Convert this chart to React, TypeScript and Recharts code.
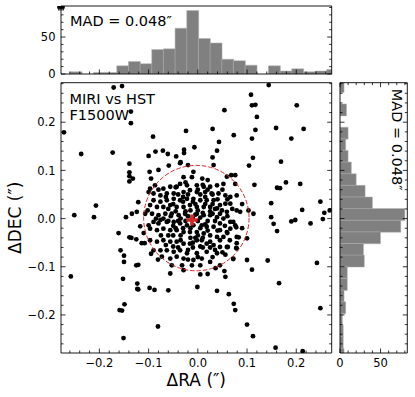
import React from 'react';
import { ScatterChart, Scatter, XAxis, YAxis, ReferenceDot, BarChart, Bar } from 'recharts';

const FONT = '"DejaVu Sans", sans-serif';
const W = 415;
const H = 397;

// ---------- data ----------
const raTicks = [-0.26, -0.24, -0.22, -0.2, -0.18, -0.16, -0.14, -0.12, -0.1, -0.08, -0.06, -0.04, -0.02, 0, 0.02, 0.04, 0.06, 0.08, 0.1, 0.12, 0.14, 0.16, 0.18, 0.2, 0.22, 0.24, 0.26];
const decTicks = [-0.26, -0.24, -0.22, -0.2, -0.18, -0.16, -0.14, -0.12, -0.1, -0.08, -0.06, -0.04, -0.02, 0, 0.02, 0.04, 0.06, 0.08, 0.1, 0.12, 0.14, 0.16, 0.18, 0.2, 0.22, 0.24, 0.26, 0.28];
const topCountTicks = [0, 10, 20, 30, 40, 50, 60, 70, 80, 90];
const rightCountTicks = [0, 10, 20, 30, 40, 50, 60, 70, 80];

const raDomain: [number, number] = [-0.278, 0.272];
const decDomain: [number, number] = [-0.279, 0.282];
const topCountDomain: [number, number] = [0, 92];
const rightCountDomain: [number, number] = [0, 83];

const raBinCenters = [-0.2477, -0.2240, -0.2003, -0.1766, -0.1529, -0.1292, -0.1055, -0.0818, -0.0581, -0.0344, -0.0107, 0.0130, 0.0367, 0.0604, 0.0841, 0.1078, 0.1315, 0.1552, 0.1789, 0.2026, 0.2263, 0.2500, 0.2737];
const raCounts = [3, 0, 2, 2, 11, 17, 14, 33, 34, 62, 86, 48, 42, 20, 18, 12, 0, 11, 4, 7, 3, 4, 6];

const decBinCenters = [0.2743, 0.2502, 0.2260, 0.2019, 0.1777, 0.1536, 0.1294, 0.1053, 0.0811, 0.0570, 0.0328, 0.0087, -0.0155, -0.0396, -0.0638, -0.0879, -0.1121, -0.1362, -0.1604, -0.1845, -0.2087, -0.2328, -0.2570, -0.2811];
const decCounts = [5, 0, 8, 0, 10, 7, 10, 14, 20, 31, 40, 80, 75, 50, 29, 30, 9, 9, 5, 7, 3, 4, 4, 5];

const madLabel = 'MAD = 0.048″';
const medianOffset = [-0.012, -0.003];
const circleCenter = [-0.003, 0.001];

const pointsUpperLeft: [number, number][] = [
  [-0.171, 0.272], [-0.154, 0.275], [-0.136, 0.222], [-0.136, 0.198], [-0.272, 0.179], [-0.024, 0.182],
  [-0.091, 0.170], [-0.237, 0.134], [-0.173, 0.137], [-0.100, 0.130], [-0.086, 0.139], [-0.071, 0.141],
  [-0.061, 0.134], [-0.044, 0.129], [-0.028, 0.143], [-0.028, 0.136], [-0.007, 0.148], [-0.139, 0.114],
  [-0.139, 0.096], [-0.139, 0.088], [-0.132, 0.083], [-0.139, 0.077], [-0.207, 0.027], [-0.251, 0.007],
  [-0.211, 0.003], [-0.134, 0.010], [-0.146, 0.003], [-0.098, 0.097], [-0.095, 0.083], [-0.080, 0.101],
  [-0.059, 0.110], [-0.035, 0.117], [-0.020, 0.111], [-0.121, 0.034], [-0.102, 0.017], [-0.036, 0.115],
];
const pointsUpperRight: [number, number][] = [
  [0.144, 0.277], [0.108, 0.257], [0.110, 0.235], [0.117, 0.236], [0.201, 0.235], [0.054, 0.225],
  [0.120, 0.211], [0.030, 0.186], [0.117, 0.184], [0.159, 0.188], [0.215, 0.186], [0.073, 0.173],
  [0.110, 0.166], [0.190, 0.166], [0.043, 0.159], [0.039, 0.141], [0.030, 0.127], [0.032, 0.111],
  [0.112, 0.126], [0.169, 0.118], [0.104, 0.110], [0.068, 0.090], [0.076, 0.090], [0.059, 0.087],
  [0.115, 0.070], [0.179, 0.075], [0.208, 0.072], [0.161, 0.064], [0.167, 0.063], [0.149, 0.032],
  [0.249, 0.035], [0.212, 0.018], [0.257, 0.012], [0.268, 0.017], [0.149, 0.003], [0.009, 0.083],
];
const pointsLowerLeft: [number, number][] = [
  [-0.161, -0.030], [-0.139, -0.039], [-0.135, -0.040], [-0.125, -0.043], [-0.114, -0.051], [-0.108, -0.051],
  [-0.117, -0.016], [-0.157, -0.066], [-0.150, -0.077], [-0.150, -0.090], [-0.125, -0.097], [-0.121, -0.096],
  [-0.258, -0.120], [-0.152, -0.125], [-0.123, -0.135], [-0.123, -0.146], [-0.121, -0.147], [-0.098, -0.144],
  [-0.088, -0.148], [-0.060, -0.149], [-0.149, -0.178], [-0.159, -0.190], [-0.154, -0.191], [-0.081, -0.224],
  [-0.151, -0.248], [-0.095, -0.073], [-0.081, -0.085],
];
const pointsLowerRight: [number, number][] = [
  [0.154, -0.011], [0.161, -0.026], [0.190, -0.006], [0.198, -0.003], [0.229, -0.010], [0.254, -0.001],
  [0.100, -0.086], [0.142, -0.087], [0.110, -0.106], [0.242, -0.092], [0.165, -0.134], [-0.001, -0.142],
  [0.039, -0.150], [0.063, -0.157], [0.054, -0.109], [0.056, -0.121], [0.036, -0.103], [0.005, -0.116],
  [0.020, -0.115], [0.073, -0.177], [0.076, -0.190], [0.249, -0.186], [0.100, -0.220], [0.112, -0.244],
  [0.158, -0.268], [0.213, -0.275], [0.072, -0.084], [0.056, -0.075], [0.078, -0.061], [0.079, -0.051],
  [0.083, -0.039], [0.061, -0.059], [0.078, -0.018],
];
const pointsCore: [number, number][] = [
  [-0.009, 0.097], [-0.029, 0.086], [-0.012, 0.086], [0.076, 0.072], [0.052, 0.072], [0.039, 0.069],
  [0.025, 0.066], [0.012, 0.066], [-0.002, 0.069], [-0.022, 0.069], [-0.036, 0.072], [-0.043, 0.066],
  [-0.056, 0.066], [-0.070, 0.062], [-0.087, 0.069], [-0.097, 0.062], [-0.100, 0.055], [-0.090, 0.052],
  [-0.076, 0.048], [-0.063, 0.052], [-0.049, 0.052], [-0.029, 0.055], [-0.016, 0.059], [-0.002, 0.055],
  [0.015, 0.055], [0.028, 0.052], [0.042, 0.052], [0.056, 0.048], [0.066, 0.045], [0.079, 0.048],
  [0.079, 0.017], [0.086, 0.014], [0.103, 0.017], [0.113, 0.010], [0.066, 0.031], [0.056, 0.031],
  [0.045, 0.028], [0.032, 0.038], [0.018, 0.038], [0.005, 0.038], [-0.009, 0.041], [-0.022, 0.041],
  [-0.036, 0.038], [-0.049, 0.041], [-0.063, 0.038], [-0.076, 0.035], [-0.090, 0.038], [-0.097, 0.028],
  [-0.083, 0.024], [-0.070, 0.024], [-0.056, 0.028], [-0.043, 0.024], [-0.029, 0.024], [-0.016, 0.028],
  [-0.002, 0.024], [0.012, 0.024], [0.025, 0.024], [0.039, 0.021], [0.049, 0.017], [0.059, 0.014],
  [-0.124, 0.014], [-0.107, 0.010], [-0.093, 0.010], [-0.080, 0.007], [-0.066, 0.010], [-0.053, 0.010],
  [-0.039, 0.007], [-0.026, 0.010], [-0.002, 0.010], [0.012, 0.007], [0.025, 0.007], [0.039, 0.003],
  [0.052, 0.000], [0.066, -0.007], [0.072, -0.007], [0.076, -0.014], [0.066, -0.021], [0.059, -0.028],
  [0.045, -0.024], [0.032, -0.017], [0.018, -0.017], [0.008, -0.014], [-0.009, -0.014], [-0.022, -0.014],
  [-0.036, -0.010], [-0.049, -0.007], [-0.063, -0.007], [-0.076, -0.003], [-0.090, -0.007], [-0.100, -0.014],
  [-0.097, -0.021], [-0.083, -0.024], [-0.070, -0.021], [-0.056, -0.024], [-0.043, -0.024], [-0.029, -0.028],
  [-0.016, -0.028], [-0.002, -0.028], [0.012, -0.031], [0.025, -0.035], [0.039, -0.038], [0.052, -0.038],
  [0.079, -0.038], [0.100, -0.041], [-0.097, -0.045], [-0.083, -0.048], [-0.070, -0.045], [-0.056, -0.048],
  [-0.043, -0.048], [-0.029, -0.052], [-0.016, -0.052], [-0.002, -0.045], [0.008, -0.045], [0.018, -0.052],
  [0.032, -0.055], [0.045, -0.059], [0.059, -0.059], [0.079, -0.062], [-0.090, -0.066], [-0.076, -0.066],
  [-0.063, -0.066], [-0.049, -0.069], [-0.036, -0.066], [-0.022, -0.072], [-0.002, -0.072], [0.018, -0.069],
  [0.039, -0.072], [0.072, -0.083], [-0.073, -0.079], [-0.056, -0.083], [-0.043, -0.079], [-0.029, -0.083],
  [-0.009, -0.086], [0.008, -0.083], [0.025, -0.090], [0.045, -0.097], [-0.053, -0.097], [-0.032, -0.097],
  [-0.012, -0.097], [0.005, -0.097], [-0.056, -0.114], [-0.029, -0.107],
];
const pointsCentre: [number, number][] = [
  [-0.010, 0.000], [0.000, -0.005], [0.010, 0.012], [-0.020, 0.005], [0.020, -0.005], [-0.005, 0.030],
  [0.005, -0.020], [-0.030, -0.020], [0.030, 0.030], [-0.015, -0.040], [0.015, 0.045], [-0.045, 0.015],
  [0.045, -0.010], [-0.060, -0.035], [0.060, 0.005], [-0.040, -0.060], [0.035, -0.065], [-0.070, 0.000],
  [0.000, 0.060], [-0.025, 0.075], [0.020, 0.080], [-0.050, -0.015], [0.030, 0.010], [-0.035, 0.000],
  [0.010, -0.060], [-0.010, -0.060],
  [-0.050, 0.030], [-0.040, 0.050], [-0.020, 0.050], [0.005, 0.050], [0.020, 0.060], [0.040, 0.040],
  [0.050, 0.060], [0.060, 0.040], [-0.060, 0.020], [-0.030, 0.035], [-0.010, 0.035], [0.015, 0.030],
  [0.035, 0.020], [0.070, 0.020], [-0.085, 0.000], [-0.060, -0.005], [-0.040, -0.005], [-0.025, -0.005],
  [0.005, 0.002], [0.035, -0.005], [0.055, -0.015], [-0.075, -0.035], [-0.050, -0.035], [-0.035, -0.035],
  [-0.005, -0.040], [0.010, -0.040], [0.025, -0.048], [0.045, -0.045], [0.065, -0.045], [-0.065, -0.055],
  [-0.050, -0.058], [-0.010, -0.050], [0.005, -0.058], [0.025, -0.060], [-0.020, -0.085], [0.000, -0.080],
  [0.030, -0.080], [-0.080, 0.060], [0.090, 0.030], [0.090, -0.020], [-0.110, -0.030], [-0.015, 0.017],
  [0.000, 0.017], [-0.045, -0.020],
  [-0.005, 0.008], [0.015, -0.012], [-0.025, 0.015], [0.025, 0.015], [-0.015, -0.020], [0.000, -0.035],
  [-0.030, 0.045], [0.010, 0.070], [-0.055, 0.005], [0.045, 0.010], [-0.020, -0.065], [0.040, -0.025],
  [-0.065, 0.045], [0.030, 0.050], [-0.045, 0.065], [0.060, -0.030], [-0.080, -0.010], [0.020, -0.025],
  [-0.035, -0.045], [0.050, -0.070],
];

const scatterData = [
  ...pointsUpperLeft, ...pointsUpperRight, ...pointsLowerLeft, ...pointsLowerRight, ...pointsCore, ...pointsCentre,
].map(([x, y]) => ({ x, y }));
const medianData = [{ x: medianOffset[0], y: medianOffset[1] }];
const raHist = raBinCenters.map((c, i) => ({ center: c, count: raCounts[i] }));
const decHist = decBinCenters.map((c, i) => ({ center: c, count: decCounts[i] }));

// ---------- helpers ----------
type Side = 'bottom' | 'top' | 'left';
const fmtOffset = (v: number) => (v < -1e-9 ? '−' : '') + Math.abs(v).toFixed(1);
const fmtCount = (v: number) => String(Math.round(v));

// mirror: distance (px) from the left axis to the opposite (right) frame edge, where mirrored ticks are drawn
const makeTick = (side: Side, step: number, fmt: ((v: number) => string) | null, mirror = 0) => (props: any) => {
  const { x, y, payload } = props;
  const v = Number(payload.value);
  const major = Math.abs(v / step - Math.round(v / step)) < 1e-6;
  const len = major ? 4.5 : 2.5;
  let x2 = x, y2 = y;
  if (side === 'bottom') y2 = y - len;
  if (side === 'top') y2 = y + len;
  if (side === 'left') x2 = x + len;
  let label: React.ReactNode = null;
  if (major && fmt) {
    if (side === 'bottom') {
      label = <text x={x} y={y + 14.2} textAnchor="middle" fontSize={11.5} fontFamily={FONT} fill="#000">{fmt(v)}</text>;
    } else if (side === 'left') {
      label = <text x={x - 5.5} y={y + 4.2} textAnchor="end" fontSize={11.5} fontFamily={FONT} fill="#000">{fmt(v)}</text>;
    }
  }
  return (
    <g>
      <line x1={x} y1={y} x2={x2} y2={y2} stroke="#000" strokeWidth={0.8} />
      {side === 'left' && mirror > 0 ? (
        <line x1={x + mirror} y1={y} x2={x + mirror - len} y2={y} stroke="#000" strokeWidth={0.8} />
      ) : null}
      {label}
    </g>
  );
};

const axisCommon = {
  type: 'number' as const,
  allowDataOverflow: true,
  tickSize: 0,
  tickMargin: 0,
  tickLine: false,
  interval: 0 as const,
  axisLine: { stroke: '#000', strokeWidth: 0.9 },
};

const DotShape = (props: any) => <circle cx={props.cx} cy={props.cy} r={2.4} fill="#000" />;
const PlusShape = (props: any) => {
  const { cx, cy } = props;
  const a = 5.6;
  const t = 1.8;
  const d = `M${cx - t},${cy - a}H${cx + t}V${cy - t}H${cx + a}V${cy + t}H${cx + t}V${cy + a}H${cx - t}V${cy + t}H${cx - a}V${cy - t}H${cx - t}Z`;
  return <path d={d} fill="#d62728" />;
};

const layer: React.CSSProperties = { position: 'absolute', left: 0, top: 0 };

export default function App() {
  return (
    <div style={{ position: 'absolute', left: 0, top: 0, width: W, height: H, background: '#fff', overflow: 'hidden' }}>
      {/* main scatter panel */}
      <div style={layer}>
        <ScatterChart width={W} height={H} margin={{ left: 21, right: 82.3, top: 81.7, bottom: 14 }}>
          <XAxis xAxisId="b" dataKey="x" orientation="bottom" height={30} domain={raDomain} ticks={raTicks} tick={makeTick('bottom', 0.1, fmtOffset)} {...axisCommon} />
          <XAxis xAxisId="t" orientation="top" height={1} domain={raDomain} ticks={raTicks} tick={makeTick('top', 0.1, null)} {...axisCommon} />
          <YAxis yAxisId="l" dataKey="y" orientation="left" width={40} domain={decDomain} ticks={decTicks} tick={makeTick('left', 0.1, fmtOffset, 270.7)} {...axisCommon} />
          <YAxis yAxisId="r" orientation="right" width={1} domain={decDomain} ticks={decTicks} {...axisCommon} tick={false} />
          <Scatter xAxisId="b" yAxisId="l" data={scatterData} shape={DotShape} isAnimationActive={false} />
          <ReferenceDot xAxisId="b" yAxisId="l" x={circleCenter[0]} y={circleCenter[1]} r={52.7} fill="none" stroke="#d62728" strokeWidth={1} strokeDasharray="4.5 2" />
          <Scatter xAxisId="b" yAxisId="l" data={medianData} shape={PlusShape} isAnimationActive={false} />
        </ScatterChart>
      </div>

      {/* top histogram: RA offsets */}
      <div style={layer}>
        <BarChart width={W} height={H} data={raHist} barCategoryGap={0} barGap={0} margin={{ left: 21, right: 82.3, top: 5, bottom: 322 }}>
          <XAxis xAxisId="b" dataKey="center" orientation="bottom" height={1} domain={raDomain} ticks={raTicks} tick={makeTick('bottom', 0.1, null)} {...axisCommon} />
          <XAxis xAxisId="t" orientation="top" height={1} domain={raDomain} ticks={raTicks} tick={makeTick('top', 0.1, null)} {...axisCommon} />
          <YAxis yAxisId="l" orientation="left" width={40} domain={topCountDomain} ticks={topCountTicks} tick={makeTick('left', 50, fmtCount, 270.7)} {...axisCommon} />
          <YAxis yAxisId="r" orientation="right" width={1} domain={topCountDomain} ticks={topCountTicks} {...axisCommon} tick={false} />
          <Bar xAxisId="b" yAxisId="l" dataKey="count" fill="#808080" stroke="#b5b5b5" strokeWidth={0.5} isAnimationActive={false} />
        </BarChart>
      </div>

      {/* right histogram: DEC offsets */}
      <div style={layer}>
        <BarChart width={W} height={H} data={decHist} layout="vertical" barCategoryGap={0} barGap={0} margin={{ left: 339, right: 6.7, top: 81.7, bottom: 14 }}>
          <XAxis xAxisId="b" orientation="bottom" height={30} domain={rightCountDomain} ticks={rightCountTicks} tick={makeTick('bottom', 50, fmtCount)} {...axisCommon} />
          <XAxis xAxisId="t" orientation="top" height={1} domain={rightCountDomain} ticks={rightCountTicks} tick={makeTick('top', 50, null)} {...axisCommon} />
          <YAxis yAxisId="l" dataKey="center" orientation="left" width={1} reversed domain={decDomain} ticks={decTicks} tick={makeTick('left', 0.1, null, 67.3)} {...axisCommon} />
          <YAxis yAxisId="r" orientation="right" width={1} reversed domain={decDomain} ticks={decTicks} {...axisCommon} tick={false} />
          <Bar xAxisId="b" yAxisId="l" dataKey="count" fill="#808080" stroke="#b5b5b5" strokeWidth={0.5} isAnimationActive={false} />
        </BarChart>
      </div>

      {/* annotations */}
      <svg style={layer} width={W} height={H}>
        <text x={70} y={25.5} fontSize={14.5} fontFamily={FONT} fill="#000">{madLabel}</text>
        <text x={69.5} y={103.5} fontSize={14.5} fontFamily={FONT} fill="#000">MIRI vs HST</text>
        <text x={69.5} y={120} fontSize={14.5} fontFamily={FONT} fill="#000">F1500W</text>
        <text transform="translate(391.5,139.7) rotate(90)" x={0} y={0} textAnchor="middle" fontSize={14.5} fontFamily={FONT} fill="#000">{madLabel}</text>
        <text x={196.3} y={385.5} textAnchor="middle" fontSize={17} fontFamily={FONT} fill="#000">ΔRA (″)</text>
        <text transform="translate(20.5,217.8) rotate(-90)" x={0} y={0} textAnchor="middle" fontSize={17} fontFamily={FONT} fill="#000">ΔDEC (″)</text>
      </svg>
    </div>
  );
}
